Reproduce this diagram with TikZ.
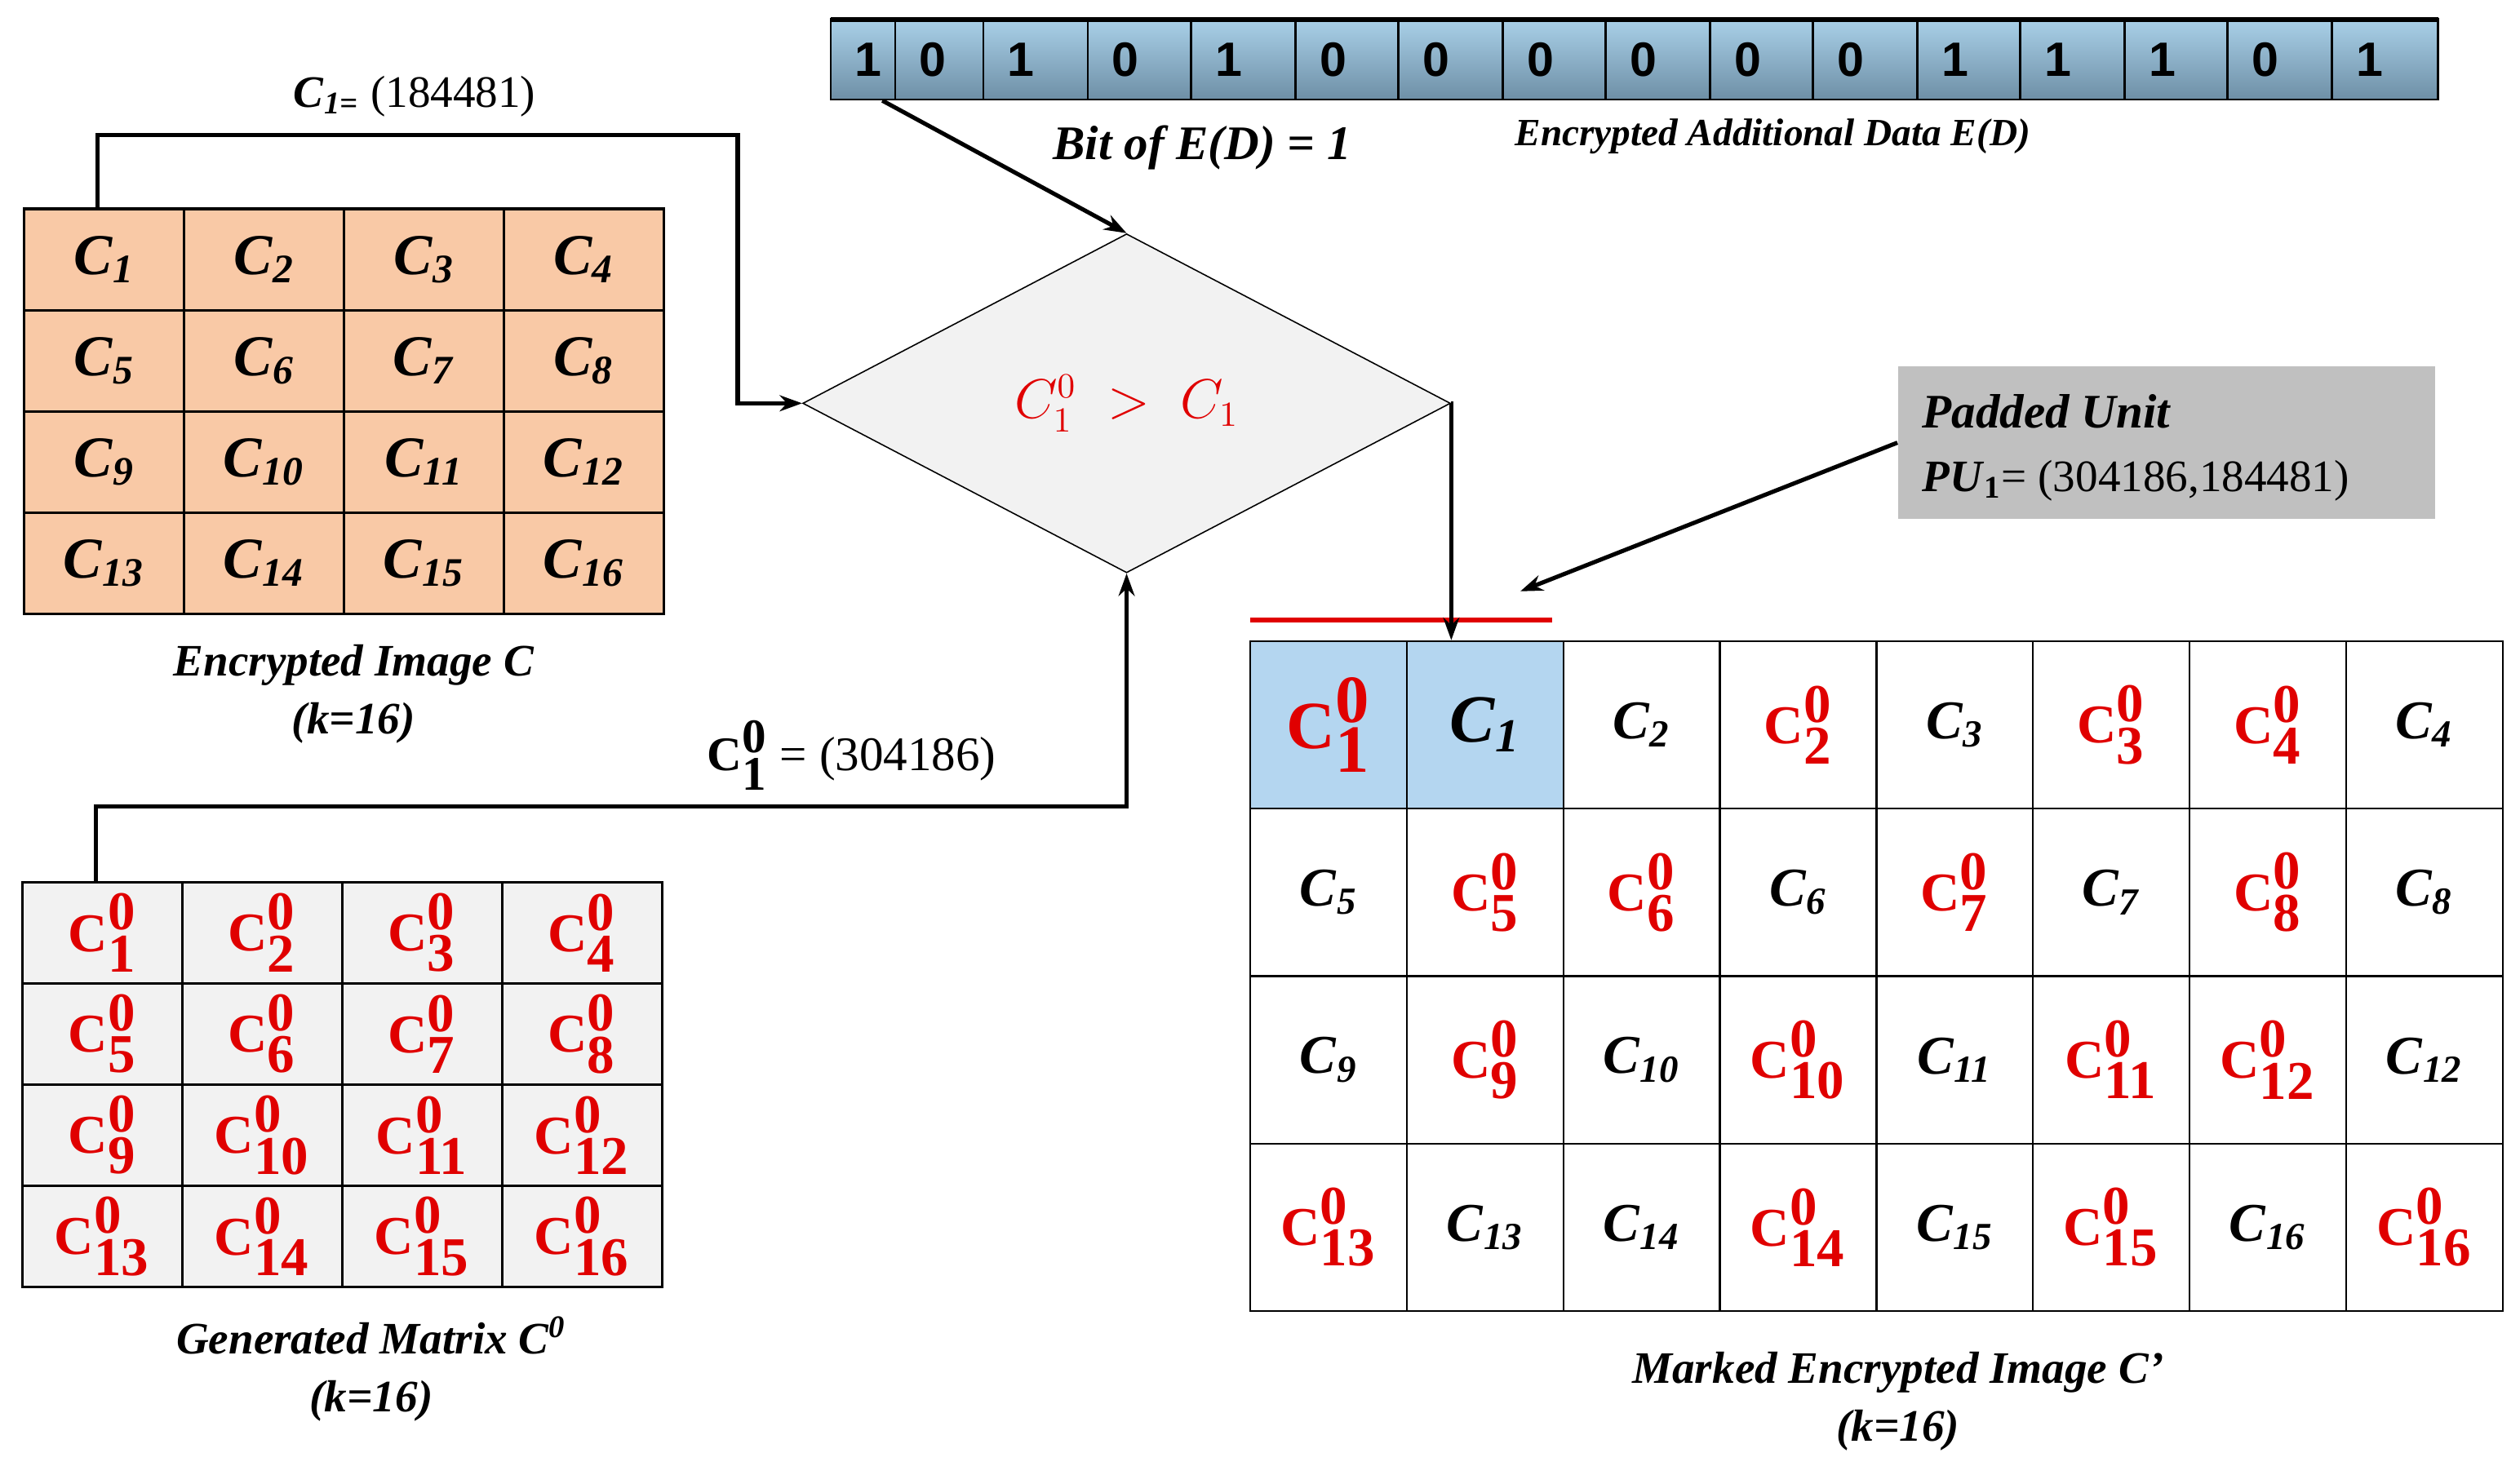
\documentclass[tikz,border=0pt]{standalone}
\usepackage{fontspec}
\setmainfont{Liberation Serif}
\newfontfamily\bitfont{Liberation Sans}
\usetikzlibrary{shapes.geometric,arrows.meta}
\definecolor{peach}{HTML}{F9C9A6}
\definecolor{lgray}{HTML}{F2F2F2}
\definecolor{pgray}{HTML}{C0C0C0}
\definecolor{lblue}{HTML}{B4D6F0}
\definecolor{myred}{HTML}{E00000}
\definecolor{bittop}{HTML}{A9D0E8}
\definecolor{bitbot}{HTML}{6E8FA6}
\newcommand\cblk[1]{\textbf{\textit{C}}\textsubscript{\textbf{\textit{#1}}}}
\newcommand\cred[1]{\textcolor{myred}{$\textbf{C}^{\textbf{0}}_{\textbf{#1}}$}}
\begin{document}
\begin{tikzpicture}[x=0.5pt,y=-0.5pt,
  captxt/.style={font=\fontsize{14}{18}\selectfont\bfseries\itshape,align=center},
  cellC/.style={draw=black,line width=0.8pt,fill=peach,minimum width=49.75pt,minimum height=31.5pt,inner sep=0,font=\fontsize{18}{18}\selectfont},
  cellG/.style={cellC,fill=lgray,font=\fontsize{17}{17}\selectfont},
  cellM/.style={draw=black,line width=0.6pt,fill=white,minimum width=48.7pt,minimum height=52.1pt,inner sep=0,font=\fontsize{17}{17}\selectfont},
  bit/.style={draw=black,line width=0.6pt,top color=bittop,bottom color=bitbot,inner sep=0,minimum height=25pt},
  bitnum/.style={font=\fontsize{15}{15}\selectfont\bitfont\bfseries,anchor=west},
  conn/.style={line width=1.3pt},
  arr/.style={conn,-{Stealth[length=7pt,width=5pt]}}]
\useasboundingbox (0,0) rectangle (1568,918);
% bits
\def\edges{517,557,612,677,741,806,870,935,999,1064,1128,1193,1257,1322,1386,1451,1517}
\foreach \i/\b in {1/1,2/0,3/1,4/0,5/1,6/0,7/0,8/0,9/0,10/0,11/0,12/1,13/1,14/1,15/0,16/1}{
  \pgfmathsetmacro\xl{{\edges}[\i-1]}
  \pgfmathsetmacro\xr{{\edges}[\i]}
  \pgfmathsetmacro\w{(\xr-\xl)*0.5}
  \node[bit,minimum width=\w pt] (b\i) at ({(\xl+\xr)/2},37) {};
  \node[bitnum] (bn\i) at (\xl+8,37) {\b};
}
\draw[line width=1.6pt] (517,12) -- (1517,12);
\node[font=\fontsize{15}{17}\selectfont\bfseries\itshape] (bitlab) at (748,92) {Bit of E(D) = 1};
\node[font=\fontsize{12}{14}\selectfont\bfseries\itshape] (edlab) at (1103,85) {Encrypted Additional Data E(D)};
% diamond
\node[diamond,draw=black,line width=0.4pt,fill=lgray,minimum width=201.5pt,minimum height=105.5pt,inner sep=0,aspect=1.9] (dia) at (701,251)
 {\textcolor{myred}{\fontsize{16}{16}\selectfont $C_1^0\;>\;C_1$}};
% encrypted image C
\foreach \r in {1,...,4}{\foreach \c in {1,...,4}{
  \pgfmathtruncatemacro\n{(\r-1)*4+\c}
  \node[cellC] (e\n) at ({15+99.5*(\c-0.5)},{130+63*(\r-0.5)}) {\cblk{\n}};
}}
\node[captxt] (ecap) at (220,432) {Encrypted Image C\\(k=16)};
% generated matrix
\foreach \r in {1,...,4}{\foreach \c in {1,...,4}{
  \pgfmathtruncatemacro\n{(\r-1)*4+\c}
  \node[cellG] (g\n) at ({14+99.5*(\c-0.5)},{549+63*(\r-0.5)}) {\cred{\n}};
}}
\node[captxt] (gcap) at (231,852) {Generated Matrix C\textsuperscript{0}\\(k=16)};
% connectors
\coordinate (k2) at (459,84); \coordinate (k3) at (459,251);
\draw[arr] ([xshift=-2pt]e1.north) |- (k2) -- (k3) -- (dia.west);
\node[font=\fontsize{14}{14}\selectfont] (l1) at (258,60) {\textbf{\textit{C}}\textsubscript{\textbf{\textit{1=}}} (184481)};
\coordinate (k4) at (701,502);
\draw[arr] ([xshift=-2pt]g1.north) |- (k4) -- (dia.south);
\node[font=\fontsize{15}{15}\selectfont] (l2) at (530,470) {$\textbf{C}^{\textbf{0}}_{\textbf{1}}$ = (304186)};
\draw[arr] ([xshift=6pt]b1.south) -- (dia.north);
% marked image
\foreach \r in {1,...,4}{\foreach \c in {1,...,8}{
  \pgfmathtruncatemacro\n{(\r-1)*8+\c}
  \node[cellM] (m\n) at ({778+97.4*(\c-0.5)},{399+104.25*(\r-0.5)}) {};
}}
\foreach \n/\k/\v in {3/b/2,4/r/2,5/b/3,6/r/3,7/r/4,8/b/4,9/b/5,10/r/5,11/r/6,12/b/6,13/r/7,14/b/7,15/r/8,16/b/8,17/b/9,18/r/9,19/b/10,20/r/10,21/b/11,22/r/11,23/r/12,24/b/12,25/r/13,26/b/13,27/b/14,28/r/14,29/b/15,30/r/15,31/b/16,32/r/16}{
  \if\k b\node[font=\fontsize{17}{17}\selectfont] (t\n) at (m\n) {\cblk{\v}};
  \else\node[font=\fontsize{17}{17}\selectfont] (t\n) at (m\n) {\cred{\v}};\fi
}
\node[cellM,fill=lblue,font=\fontsize{21}{21}\selectfont] (mm1) at (m1) {\cred{1}};
\node[cellM,fill=lblue,font=\fontsize{21}{21}\selectfont] (mm2) at (m2) {\cblk{1}};
\node[captxt] (mcap) at (1181,872) {Marked Encrypted Image C\textbf{\textit{'}}\\(k=16)};
\coordinate (rl1) at (778,386); \coordinate (rl2) at (966,386);
\draw[myred,line width=1.6pt] (rl1) -- (rl2);
\coordinate (k5) at (903,251);
\draw[arr] (dia.east) -- (k5) -- (k5 |- mm2.north);
% padded unit
\node[fill=pgray,minimum width=167pt,minimum height=47.5pt,inner sep=0] (pu) at (1348,275.5) {};
\node[anchor=west,font=\fontsize{15}{15}\selectfont\bfseries\itshape] (put) at (1189,256) {Padded Unit};
\node[anchor=west,font=\fontsize{14}{14}\selectfont] (puv) at (1189,299) {\textbf{\textit{PU}}\textsubscript{\textbf{1}}= (304186,184481)};
\coordinate (pa) at (946,368);
\draw[arr] (pu.west) -- (pa);
\end{tikzpicture}
\end{document}
